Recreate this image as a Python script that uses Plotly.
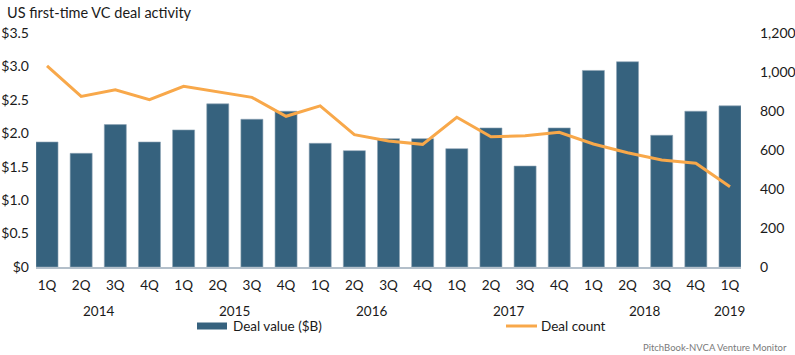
import plotly.graph_objects as go

quarters = ["1Q", "2Q", "3Q", "4Q"] * 5 + ["1Q"]
years = [2014] * 4 + [2015] * 4 + [2016] * 4 + [2017] * 4 + [2018] * 4 + [2019]
deal_value = [1.87, 1.70, 2.13, 1.87, 2.05, 2.44, 2.21, 2.33, 1.85, 1.74, 1.92,
              1.92, 1.77, 2.08, 1.51, 2.08, 2.94, 3.07, 1.97, 2.33, 2.41]
deal_count = [1032, 875, 909, 858, 927, 899, 870, 773, 826, 679, 646,
              629, 768, 668, 673, 691, 631, 586, 549, 532, 412]

BAR = "#36627E"
LINE = "#F8A84A"
TXT = "#1a1a1a"
FONT = "Lato"

x = list(range(len(quarters)))

W, H = 795, 355
ML, MR, MT, MB = 36, 54, 33, 88
pw = W - ML - MR
ph = H - MT - MB

def px(pix):
    return (pix - ML) / pw

def py(pix):
    return (H - MB - pix) / ph

fig = go.Figure()
fig.add_trace(go.Bar(x=x, y=deal_value, name="Deal value ($B)", marker_color=BAR,
                     marker_line=dict(color="#8fa5b6", width=0.6), width=0.645,
                     yaxis="y", showlegend=False))
fig.add_trace(go.Scatter(x=x, y=deal_count, name="Deal count", mode="lines",
                         line=dict(color=LINE, width=3), yaxis="y2", showlegend=False))

annotations = []
for yr in sorted(set(years)):
    idx = [i for i, v in enumerate(years) if v == yr]
    cx = sum(idx) / len(idx)
    annotations.append(dict(x=cx, y=py(311), xref="x", yref="paper", yanchor="middle",
                            text=str(yr), showarrow=False,
                            font=dict(family=FONT, size=13.5, color=TXT)))

annotations += [
    dict(x=px(5), y=py(12), xref="paper", yref="paper", xanchor="left", yanchor="middle",
         text="US first-time VC deal activity", showarrow=False,
         font=dict(family=FONT, size=14.5, color=TXT)),
    dict(x=px(231), y=py(326), xref="paper", yref="paper", xanchor="left", yanchor="middle",
         text="Deal value ($B)", showarrow=False,
         font=dict(family=FONT, size=13.5, color=TXT)),
    dict(x=px(539), y=py(326), xref="paper", yref="paper", xanchor="left", yanchor="middle",
         text="Deal count", showarrow=False,
         font=dict(family=FONT, size=13.5, color=TXT)),
    dict(x=px(789), y=py(347), xref="paper", yref="paper", xanchor="right", yanchor="middle",
         text="PitchBook-NVCA Venture Monitor", showarrow=False,
         font=dict(family=FONT, size=9.5, color="#7a7a7a")),
]

shapes = [
    dict(type="rect", xref="paper", yref="paper", x0=px(197), x1=px(227),
         y0=py(322.5), y1=py(329.5), fillcolor=BAR, line_width=0),
    dict(type="line", xref="paper", yref="paper", x0=px(506), x1=px(537),
         y0=py(326), y1=py(326), line=dict(color=LINE, width=3)),
]

fig.update_layout(
    width=W, height=H, autosize=False,
    margin=dict(l=ML, r=MR, t=MT, b=MB, pad=0, autoexpand=False),
    paper_bgcolor="white", plot_bgcolor="white",
    font=dict(family=FONT, size=13, color=TXT),
    xaxis=dict(range=[-0.3225, 20.3225], tickmode="array", tickvals=x, ticktext=quarters,
               showgrid=False, zeroline=False, showline=True, linecolor="#b3bfca",
               linewidth=1.5, ticks="", ticklabelstandoff=5, automargin=False,
               tickfont=dict(family=FONT, size=13.5, color=TXT)),
    yaxis=dict(range=[0, 3.5], tickvals=[0, 0.5, 1, 1.5, 2, 2.5, 3, 3.5],
               ticktext=["$0", "$0.5", "$1.0", "$1.5", "$2.0", "$2.5", "$3.0", "$3.5"],
               showgrid=False, zeroline=False, showline=False, ticks="",
               ticklabelstandoff=6, automargin=False,
               tickfont=dict(family=FONT, size=14, color=TXT)),
    yaxis2=dict(range=[0, 1200], overlaying="y", side="right",
                tickvals=[0, 200, 400, 600, 800, 1000, 1200],
                ticktext=["0", "200", "400", "600", "800", "1,000", "1,200"],
                showgrid=False, zeroline=False, showline=False, ticks="",
                ticklabelstandoff=18, automargin=False,
                tickfont=dict(family=FONT, size=14, color=TXT)),
    annotations=annotations,
    shapes=shapes,
    showlegend=False,
)

fig.write_html("out.html", config={"displayModeBar": False},
               post_script="document.body.style.margin='0';document.body.style.overflow='hidden';")
